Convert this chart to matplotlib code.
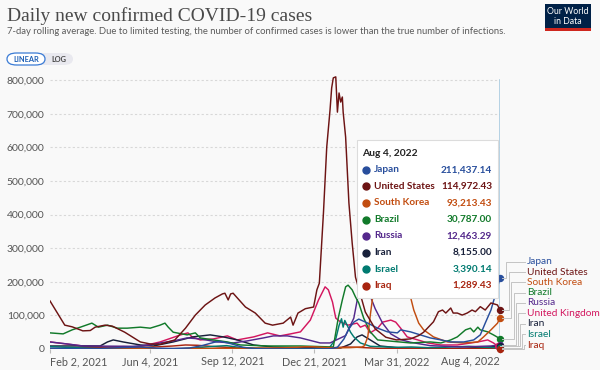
import numpy as np
import pandas as pd
import matplotlib
matplotlib.use("Agg")
import matplotlib.pyplot as plt
from matplotlib.patches import Rectangle, FancyBboxPatch
from matplotlib.lines import Line2D

# values in thousands of cases, x in days since Feb 2, 2021
start = pd.Timestamp("2021-02-02")

japan_days = [0, 30, 60, 90, 110, 130, 150, 170, 185, 200, 207, 220, 235, 250, 270, 300, 340, 350, 358, 364,
              370, 376, 387, 399, 411, 423, 427, 439, 451, 463, 476, 488, 504, 516, 524, 530, 537, 543, 548]
japan_vals = [2.5, 1.1, 1.5, 4.5, 6, 2.5, 1.5, 3, 10, 20, 23, 16, 5, 1, 0.3, 0.2, 0.5, 5, 30, 60,
              80, 89, 77, 62, 51, 48, 57, 51, 42, 33, 27, 21, 21, 27, 42, 77, 116, 167, 211.4]

us_days = [0, 18, 27, 40, 49, 55, 67, 76, 91, 110, 122, 134, 152, 165, 177, 189, 201, 210, 213, 217,
           220, 223, 227, 238, 250, 262, 271, 284, 293, 296, 302, 311, 321, 325, 328, 333, 337, 341, 343, 345,
           348, 350, 352, 354, 356, 357, 360, 364, 368, 372, 384, 396, 409, 422, 439, 449, 455, 467, 473, 478,
           482, 488, 491, 496, 502, 508, 514, 518, 524, 530, 537, 545, 548]
us_vals = [143, 71, 66, 54, 55, 65, 71, 68, 50, 21, 15, 14, 27, 62, 101, 131, 152, 164, 166, 146,
           164, 166, 155, 125, 107, 77, 71, 77, 95, 71, 107, 120, 125, 176, 196, 405, 601, 711, 777, 807,
           810, 705, 762, 735, 750, 705, 631, 435, 315, 214, 110, 60, 35, 27, 30, 40, 50, 81, 111, 116,
           107, 122, 107, 107, 101, 107, 116, 111, 126, 116, 137, 131, 115]

korea_days = [0, 60, 120, 160, 200, 240, 280, 300, 310, 320, 335, 350, 365, 380, 383, 387, 390, 393, 400, 408,
              415, 422, 430, 439, 443, 449, 455, 467, 484, 504, 521, 528, 537, 545, 548]
korea_vals = [0.4, 0.4, 0.6, 1.4, 1.8, 2.2, 3.2, 5, 6.5, 6.8, 4.5, 3.5, 4, 6, 10, 36, 100, 155, 260, 380,
              390, 330, 230, 155, 116, 77, 57, 36, 21, 18, 21, 36, 57, 77, 93.2]

brazil_days = [0, 16, 27, 37, 51, 59, 70, 82, 94, 110, 122, 134, 140, 144, 150, 167, 177, 183, 199, 216,
               232, 265, 305, 345, 351, 356, 360, 363, 368, 372, 376, 382, 390, 399, 439, 463, 476, 488, 496, 506,
               512, 516, 521, 524, 533, 540, 548]
brazil_vals = [48, 45, 57, 65, 77, 65, 71, 62, 62, 65, 62, 71, 77, 65, 50, 42, 48, 33, 27, 21,
               12, 9, 9, 6, 92, 146, 185, 190, 176, 155, 137, 92, 51, 27, 18, 21, 18, 27, 36, 57,
               62, 51, 65, 57, 51, 42, 30.8]

russia_days = [0, 21, 40, 101, 122, 134, 150, 167, 183, 204, 223, 240, 260, 272, 289, 305, 329, 341, 360, 370,
               376, 380, 388, 396, 405, 415, 427, 439, 463, 500, 537, 548]
russia_vals = [21, 15, 9, 8, 12, 18, 24, 33, 30, 21, 18, 24, 33, 39, 39, 33, 18, 18, 40, 92,
               170, 185, 170, 120, 77, 45, 28, 20, 10, 6, 9, 12.5]

uk_days = [0, 40, 101, 134, 159, 168, 173, 183, 199, 216, 228, 248, 265, 280, 293, 305, 317, 327, 335, 339,
           344, 348, 354, 363, 374, 378, 384, 390, 399, 405, 415, 421, 427, 435, 448, 460, 476, 496, 521, 533,
           540, 545]
uk_vals = [21, 9, 2.5, 21, 42, 48, 36, 27, 30, 39, 27, 36, 48, 39, 45, 51, 86, 146, 185, 176,
           140, 92, 80, 71, 77, 65, 71, 48, 62, 80, 86, 80, 62, 36, 27, 18, 12, 12, 21, 27,
           18, 9]

iran_days = [0, 61, 70, 77, 89, 110, 126, 150, 174, 195, 211, 228, 248, 272, 305, 354, 366, 374, 380, 390,
             402, 427, 488, 520, 548]
iran_vals = [9, 9, 21, 27, 21, 12, 9, 21, 36, 42, 36, 27, 12, 6, 4, 3, 15, 36, 42, 27,
             9, 3, 1, 4, 8.2]

israel_days = [0, 30, 60, 90, 130, 160, 180, 200, 215, 230, 250, 290, 320, 340, 348, 352, 355, 357, 359, 362,
               366, 370, 378, 390, 420, 440, 460, 480, 510, 530, 548]
israel_vals = [7, 4, 1, 0.3, 0.1, 1, 4, 8, 10, 5, 2, 0.6, 1, 3, 30, 70, 90, 65, 85, 70,
               50, 36, 18, 8, 5, 6, 4, 5, 8, 5, 3.4]

iraq_days = [0, 30, 60, 90, 120, 150, 165, 180, 200, 230, 270, 300, 340, 360, 375, 400, 450, 500, 530, 548]
iraq_vals = [1, 3, 5, 7, 5, 9, 12, 11, 7, 3, 1.5, 1, 3, 6, 5, 2, 1, 0.5, 2, 1.3]

countries = ["Japan", "United States", "South Korea", "Brazil", "Russia",
             "United Kingdom", "Iran", "Israel", "Iraq"]
colors = ["#284e9c", "#6d1414", "#c24d10", "#117a2a", "#54288c",
          "#d3175f", "#18203a", "#007a70", "#a8240f"]
series = [(japan_days, japan_vals), (us_days, us_vals), (korea_days, korea_vals),
          (brazil_days, brazil_vals), (russia_days, russia_vals), (uk_days, uk_vals),
          (iran_days, iran_vals), (israel_days, israel_vals), (iraq_days, iraq_vals)]

tip_names = ["Japan", "United States", "South Korea", "Brazil", "Russia", "Iran", "Israel", "Iraq"]
tip_values = ["211,437.14", "114,972.43", "93,213.43", "30,787.00", "12,463.29",
              "8,155.00", "3,390.14", "1,289.43"]

tick_dates = ["2021-02-02", "2021-06-04", "2021-09-12", "2021-12-21", "2022-03-31", "2022-08-04"]
tick_labels = ["Feb 2, 2021", "Jun 4, 2021", "Sep 12, 2021", "Dec 21, 2021", "Mar 31, 2022", "Aug 4, 2022"]

W, H = 600, 370


def px(x, y):
    return x / W, 1 - y / H


fig = plt.figure(figsize=(6, 3.7), dpi=100)
fig.patch.set_facecolor("#f9f9f9")
ax = fig.add_axes([50 / W, 21 / H, 450 / W, (349 - 73.5) / H])
ax.set_facecolor("none")

draw_order = [5, 6, 8, 7, 4, 3, 2, 0, 1]
for i in draw_order:
    d, v = series[i]
    dates = start + pd.to_timedelta(d, unit="D")
    ax.plot(dates, np.array(v) * 1000, color=colors[i], lw=1.05, solid_joinstyle="round", zorder=3)

ax.set_xlim(start, pd.Timestamp("2022-08-04"))
ax.set_ylim(0, 820000)
yt = np.arange(0, 800001, 100000)
ax.set_yticks(yt)
ax.set_yticklabels([f"{int(t):,}" for t in yt], fontsize=7.5, color="#555555", family="Lato")
for t in yt[1:]:
    ax.axhline(t, color="#d8d8d8", lw=0.8, ls=(0, (2, 2)), zorder=1)
ax.axhline(0, color="#bbbbbb", lw=0.8, zorder=2)
for s in ax.spines.values():
    s.set_visible(False)
ax.tick_params(axis="y", length=0, pad=4)
ax.set_xticks(pd.to_datetime(tick_dates))
ax.set_xticklabels(tick_labels, fontsize=7.8, color="#555555", family="Lato")
ax.tick_params(axis="x", length=3, color="#bbbbbb", pad=2)
labs = ax.get_xticklabels()
labs[0].set_ha("left")
labs[-1].set_ha("right")

# hover line
end = pd.Timestamp("2022-08-04")
ax.axvline(end, color="#a9cbe0", lw=1.2, ymax=800000 / 820000, zorder=2)

# end dots and connectors
fig.canvas.draw()
label_y = [262, 272.3, 282.3, 292.5, 302.7, 313.3, 324, 334.3, 345.3]
vert_x = [506, 508.5, 511, 513.5, 516, 518, 520, 522, 524]
for i in range(len(countries)):
    d, v = series[i]
    dt = start + pd.Timedelta(days=d[-1])
    ax.plot([dt], [v[-1] * 1000], "o", color=colors[i], ms=4.3, zorder=6, clip_on=False)
    dx, dy = ax.transData.transform((matplotlib.dates.date2num(dt), v[-1] * 1000))
    x0, y0 = dx, H - dy
    xs = [x0 + 2, vert_x[i], vert_x[i], 525]
    ys = [y0, y0, label_y[i], label_y[i]]
    fig.add_artist(Line2D([x / W for x in xs], [1 - y / H for y in ys],
                          color="#c4c4c4", lw=0.7, zorder=1))
    fig.text(527 / W, 1 - label_y[i] / H, countries[i], color=colors[i], fontsize=7.3,
             family="Lato", va="center", ha="left")

# tooltip
box = FancyBboxPatch(px(357, 298), 141 / W, 158 / H, boxstyle="square,pad=0",
                     transform=fig.transFigure, facecolor="white", edgecolor="#dcdcdc",
                     lw=0.8, zorder=10)
fig.add_artist(box)
fig.text(*px(362, 153), "Aug 4, 2022", fontsize=7.4, fontweight="bold", color="#222222",
         family="Lato", va="center", zorder=11)
row_y = [170, 186.5, 203, 219.5, 236, 252.5, 269, 285.5]
tip_colors = [colors[countries.index(n)] for n in tip_names]
for n, val, c, y in zip(tip_names, tip_values, tip_colors, row_y):
    fig.add_artist(Line2D([366 / W], [1 - y / H], marker="o", ms=5, color=c, zorder=11))
    fig.text(*px(374, y), n, fontsize=7.2, fontweight="bold", color=c, family="Lato",
             va="center", zorder=11)
    fig.text(*px(492, y), val, fontsize=7.2, fontweight="bold", color=c, family="Lato",
             va="center", ha="right", zorder=11)

# header
fig.text(*px(7, 16), "Daily new confirmed COVID-19 cases", fontsize=14, color="#4a4a4a",
         family="Liberation Serif", va="center")
fig.text(*px(7, 31), "7-day rolling average. Due to limited testing, the number of confirmed cases "
         "is lower than the true number of infections.", fontsize=6.8, color="#5b5b5b",
         family="Lato", va="center")

# logo
fig.add_artist(Rectangle(px(545, 30.5), 46 / W, 26 / H, transform=fig.transFigure,
                         facecolor="#002147", edgecolor="none"))
fig.add_artist(Rectangle(px(545, 30.5), 46 / W, 2.5 / H, transform=fig.transFigure,
                         facecolor="#ce261e", edgecolor="none"))
fig.text(*px(568, 16.5), "Our World\nin Data", fontsize=6.3, color="white", family="Lato",
         ha="center", va="center", linespacing=1.0)

# linear / log toggle
fig.add_artist(FancyBboxPatch(px(7, 65), 66 / W, 12 / H, boxstyle="round,pad=0,rounding_size=0.016",
                              transform=fig.transFigure, facecolor="#e9e9ef", edgecolor="none"))
fig.add_artist(FancyBboxPatch(px(7, 65), 38 / W, 12 / H, boxstyle="round,pad=0,rounding_size=0.016",
                              transform=fig.transFigure, facecolor="white", edgecolor="#3a7bd5",
                              lw=0.9))
fig.text(*px(26, 59), "LINEAR", fontsize=5.3, fontweight="bold", color="#1d5fb5",
         family="Lato", ha="center", va="center")
fig.text(*px(59, 59), "LOG", fontsize=5.3, fontweight="bold", color="#444444",
         family="Lato", ha="center", va="center")

fig.savefig("out.png", dpi=100, facecolor=fig.get_facecolor())
